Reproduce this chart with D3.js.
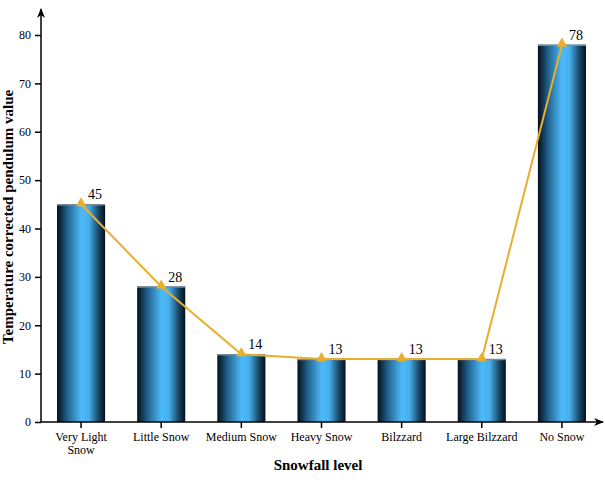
<!DOCTYPE html>
<html><head><meta charset="utf-8">
<script src="https://cdn.jsdelivr.net/npm/d3@7"></script>
<style>body{margin:0;background:#fff}svg{display:block}text{font-family:"Liberation Serif","Times New Roman",serif}</style>
</head><body>
<svg id="c" width="605" height="480"></svg>
<script>
const categories = ["Very Light Snow","Little Snow","Medium Snow","Heavy Snow","Bilzzard","Large Bilzzard","No Snow"];
const values = [45, 28, 14, 13, 13, 13, 78];
const yTicks = [0,10,20,30,40,50,60,70,80];

(function(){
const svg = d3.select("#c");
const mLeft = 41, mRight = 602, mTop = 35, mBottom = 422;
const x = d3.scaleBand().domain(categories).range([mLeft, mRight]).paddingInner(0.4).paddingOuter(0.2);
const y = d3.scaleLinear().domain([0, 80]).range([mBottom, mTop]);

const defs = svg.append("defs");
const g = defs.append("linearGradient").attr("id","barg").attr("x1","0").attr("x2","1").attr("y1","0").attr("y2","0");
g.append("stop").attr("offset","0%").attr("stop-color","#04101a");
g.append("stop").attr("offset","22%").attr("stop-color","#22648f");
g.append("stop").attr("offset","50%").attr("stop-color","#4db9f7");
g.append("stop").attr("offset","66%").attr("stop-color","#46b0ee");
g.append("stop").attr("offset","86%").attr("stop-color","#1a4866");
g.append("stop").attr("offset","100%").attr("stop-color","#04101a");
defs.append("marker").attr("id","arr").attr("viewBox","0 0 10 10").attr("refX",9).attr("refY",5)
  .attr("markerWidth",10).attr("markerHeight",10).attr("markerUnits","userSpaceOnUse").attr("orient","auto")
  .append("path").attr("d","M0,1 L10,5 L0,9 L3,5 Z").attr("fill","#000");

// bars
svg.append("g").selectAll("rect").data(values).join("rect")
  .attr("x",(d,i)=>x(categories[i])).attr("width",x.bandwidth())
  .attr("y",d=>y(d)).attr("height",d=>mBottom-y(d))
  .attr("fill","url(#barg)");
svg.append("g").selectAll("line").data(values).join("line")
  .attr("x1",(d,i)=>x(categories[i])).attr("x2",(d,i)=>x(categories[i])+x.bandwidth())
  .attr("y1",d=>y(d)+0.5).attr("y2",d=>y(d)+0.5).attr("stroke","#7a8a96").attr("stroke-width",1.5);

// y axis
const ya = svg.append("g").attr("transform",`translate(${mLeft},0)`)
  .call(d3.axisLeft(y).tickValues(yTicks).tickSize(6).tickPadding(4));
ya.select(".domain").remove();
ya.selectAll("text").attr("font-size",12).attr("fill","#000").style("font-family","Liberation Serif");
ya.selectAll("line").attr("stroke","#000").attr("stroke-width",1.5);
svg.append("line").attr("x1",mLeft).attr("x2",mLeft).attr("y1",mBottom).attr("y2",9)
  .attr("stroke","#000").attr("stroke-width",1.5).attr("marker-end","url(#arr)");

// x axis
const xa = svg.append("g").attr("transform",`translate(0,${mBottom})`)
  .call(d3.axisBottom(x).tickSize(6).tickPadding(4));
xa.select(".domain").remove();
xa.selectAll("line").attr("stroke","#000").attr("stroke-width",1.5);
xa.selectAll("text").attr("font-size",12).attr("fill","#000").style("font-family","Liberation Serif")
  .each(function(d){
    if(d==="Very Light Snow"){
      const t=d3.select(this); t.text(null);
      t.append("tspan").attr("x",0).attr("dy","0.71em").text("Very Light");
      t.append("tspan").attr("x",0).attr("dy","1.1em").text("Snow");
      t.attr("dy",null);
    }
  });
svg.append("line").attr("x1",mLeft).attr("x2",603).attr("y1",mBottom).attr("y2",mBottom)
  .attr("stroke","#000").attr("stroke-width",1.5).attr("marker-end","url(#arr)");

// line
const cx = (d,i)=>x(categories[i])+x.bandwidth()/2;
svg.append("path").datum(values)
  .attr("d", d3.line().x(cx).y(d=>y(d)))
  .attr("fill","none").attr("stroke","#e8ae2c").attr("stroke-width",2);
svg.append("g").selectAll("path").data(values).join("path")
  .attr("d", d3.symbol().type(d3.symbolTriangle).size(48))
  .attr("transform",(d,i)=>`translate(${cx(d,i)},${y(d)-1})`)
  .attr("fill","#e8ae2c");
svg.append("g").selectAll("text").data(values).join("text")
  .attr("x",(d,i)=>cx(d,i)+7).attr("y",d=>y(d)-5)
  .attr("font-size",14).attr("fill","#000").text(d=>d);

// titles
svg.append("text").attr("x",318).attr("y",470).attr("text-anchor","middle")
  .attr("font-size",15).attr("font-weight","bold").text("Snowfall level");
svg.append("text").attr("transform","translate(13,217) rotate(-90)").attr("text-anchor","middle")
  .attr("font-size",15).attr("font-weight","bold").text("Temperature corrected pendulum value");
})();
</script>
</body></html>
